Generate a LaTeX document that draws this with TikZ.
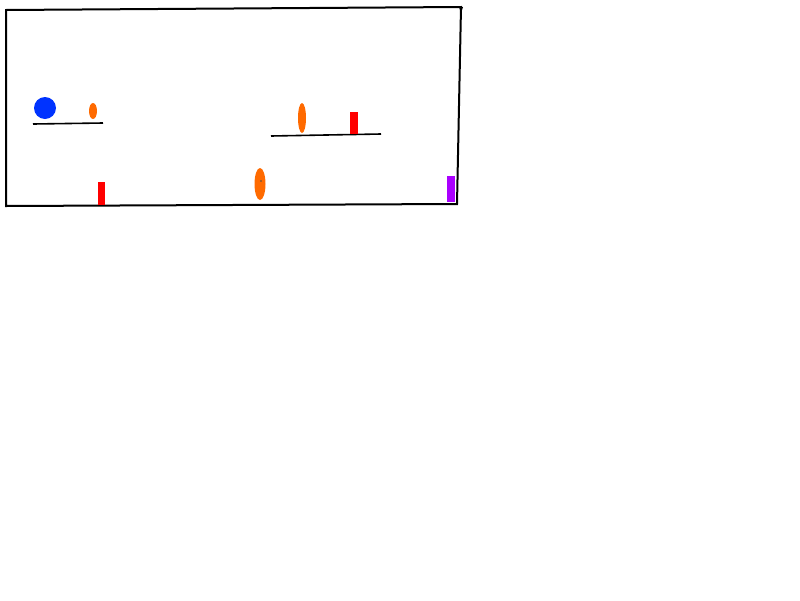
\documentclass[tikz,border=0pt]{standalone}
\definecolor{ballblue}{RGB}{0,51,255}
\definecolor{pinorange}{RGB}{255,106,0}
\definecolor{blockred}{RGB}{255,0,0}
\definecolor{goalpurple}{RGB}{170,0,255}
\tikzset{
  wall/.style={draw=black,line width=2pt},
  ledge/.style={draw=black,line width=1.6pt},
  pin/.style={fill=pinorange},
  block/.style={fill=blockred},
}
\begin{document}
\begin{tikzpicture}[x=1pt,y=-1pt]
\useasboundingbox (0,0) rectangle (800,600);
% outer frame
\draw[wall] (6,10) -- (461,7) -- (457,204) -- (6,206) -- cycle;
\fill (459,7) -- (463,7) -- (461,13) -- cycle;
% left ledge
\draw[ledge] (33,124) -- (103,123);
\fill[ballblue] (45,108) circle (11);
\fill[pin] (93,111) ellipse (4 and 8);
% right ledge
\draw[ledge] (271,136) -- (381,134);
\fill[pin] (302,118) ellipse (4 and 15);
\fill[block] (350,112) rectangle (358,134);
% floor items
\fill[block] (98,182) rectangle (105,205);
\fill[pin] (260,184) ellipse (5.5 and 16);
\fill[black!70] (261,181) circle (0.8);
\fill[goalpurple] (447,176) rectangle (455,202);
\end{tikzpicture}
\end{document}
